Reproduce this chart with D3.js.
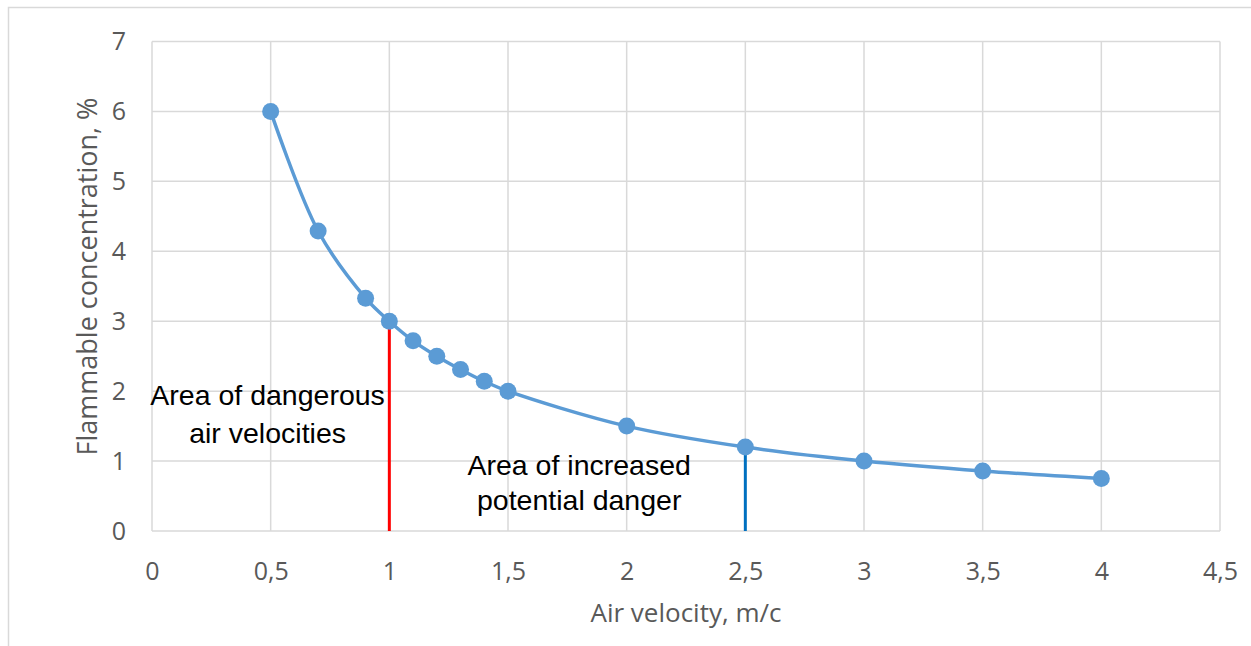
<!DOCTYPE html>
<html><head><meta charset="utf-8">
<script src="https://cdn.jsdelivr.net/npm/d3@7"></script>
<style>body{margin:0;background:#fff}svg{display:block}</style>
</head><body>
<svg id="c" width="1251" height="646"></svg>
<script>
const velocity = [0.5,0.7,0.9,1,1.1,1.2,1.3,1.4,1.5,2,2.5,3,3.5,4];
const concentration = [6,4.29,3.33,3,2.72,2.5,2.31,2.14,2,1.5,1.2,1,0.857,0.75];
const xTicks = [0,0.5,1,1.5,2,2.5,3,3.5,4,4.5];
const yTicks = [0,1,2,3,4,5,6,7];
const redMarker = [{x:1,y:3},{x:1,y:0}];
const blueMarker = [{x:2.5,y:1.2},{x:2.5,y:0}];
const labels = [
  {lines:["Area of dangerous","air velocities"], x:0.487, y:1.80, gap:38},
  {lines:["Area of increased","potential danger"], x:1.80, y:0.80, gap:35}
];

const svg = d3.select("#c");
const m = {l:152, t:41.5, r:1220, b:531};
const x = d3.scaleLinear().domain([0,4.5]).range([m.l,m.r]);
const y = d3.scaleLinear().domain([0,7]).range([m.b,m.t]);
const font = "'Open Sans', 'Noto Sans', sans-serif";

// outer frame
svg.append("path").attr("d","M8.5,646 L8.5,7.5 L1251,7.5").attr("fill","none").attr("stroke","#d9d9d9").attr("stroke-width",1.5);

// gridlines
svg.append("g").selectAll("line.v").data(xTicks).join("line")
  .attr("x1",d=>x(d)).attr("x2",d=>x(d)).attr("y1",m.t).attr("y2",m.b)
  .attr("stroke","#d9d9d9").attr("stroke-width",1.5);
svg.append("g").selectAll("line.h").data(yTicks).join("line")
  .attr("x1",m.l).attr("x2",m.r).attr("y1",d=>y(d)).attr("y2",d=>y(d))
  .attr("stroke","#d9d9d9").attr("stroke-width",1.5);

// axes (labels only)
const fmt = d=>String(d).replace(".",",");
const xa = svg.append("g").attr("transform",`translate(0,${m.b})`)
  .call(d3.axisBottom(x).tickValues(xTicks).tickFormat(fmt).tickSize(0).tickPadding(31));
xa.select(".domain").remove();
xa.selectAll("text").attr("font-family",font).attr("font-size",25).attr("fill","#595959");
const ya = svg.append("g").attr("transform",`translate(${m.l},0)`)
  .call(d3.axisLeft(y).tickValues(yTicks).tickFormat(fmt).tickSize(0).tickPadding(26));
ya.select(".domain").remove();
ya.selectAll("text").attr("font-family",font).attr("font-size",25).attr("fill","#595959");

// axis titles
svg.append("text").attr("x",686).attr("y",622).attr("text-anchor","middle")
  .attr("font-family",font).attr("font-size",26).attr("fill","#595959").text("Air velocity, m/c");
svg.append("text").attr("transform",`translate(97,${(95+458)/2}) rotate(-90)`).attr("text-anchor","middle")
  .attr("font-family",font).attr("font-size",27).attr("fill","#595959").text("Flammable concentration, %");

// marker lines
const ln = d3.line().x(d=>x(d.x)).y(d=>y(d.y));
svg.append("path").attr("d",ln(redMarker)).attr("stroke","#ff0000").attr("stroke-width",3).attr("fill","none");
svg.append("path").attr("d",ln(blueMarker)).attr("stroke","#0070c0").attr("stroke-width",3).attr("fill","none");

// series
const pts = velocity.map((v,i)=>({x:v,y:concentration[i]}));
svg.append("path").attr("d",d3.line().x(d=>x(d.x)).y(d=>y(d.y)).curve(d3.curveCatmullRom.alpha(0.5))(pts))
  .attr("fill","none").attr("stroke","#5b9bd5").attr("stroke-width",3.5);
svg.append("g").selectAll("circle").data(pts).join("circle")
  .attr("cx",d=>x(d.x)).attr("cy",d=>y(d.y)).attr("r",8.5).attr("fill","#5b9bd5");

// annotations
labels.forEach(l=>{
  const t = svg.append("text").attr("text-anchor","middle").attr("font-family","'Liberation Sans', Arial, sans-serif")
    .attr("font-size",28.5).attr("fill","#000");
  l.lines.forEach((s,i)=>t.append("tspan").attr("x",x(l.x)).attr("y",y(l.y)+i*l.gap).text(s));
});
</script>
</body></html>
